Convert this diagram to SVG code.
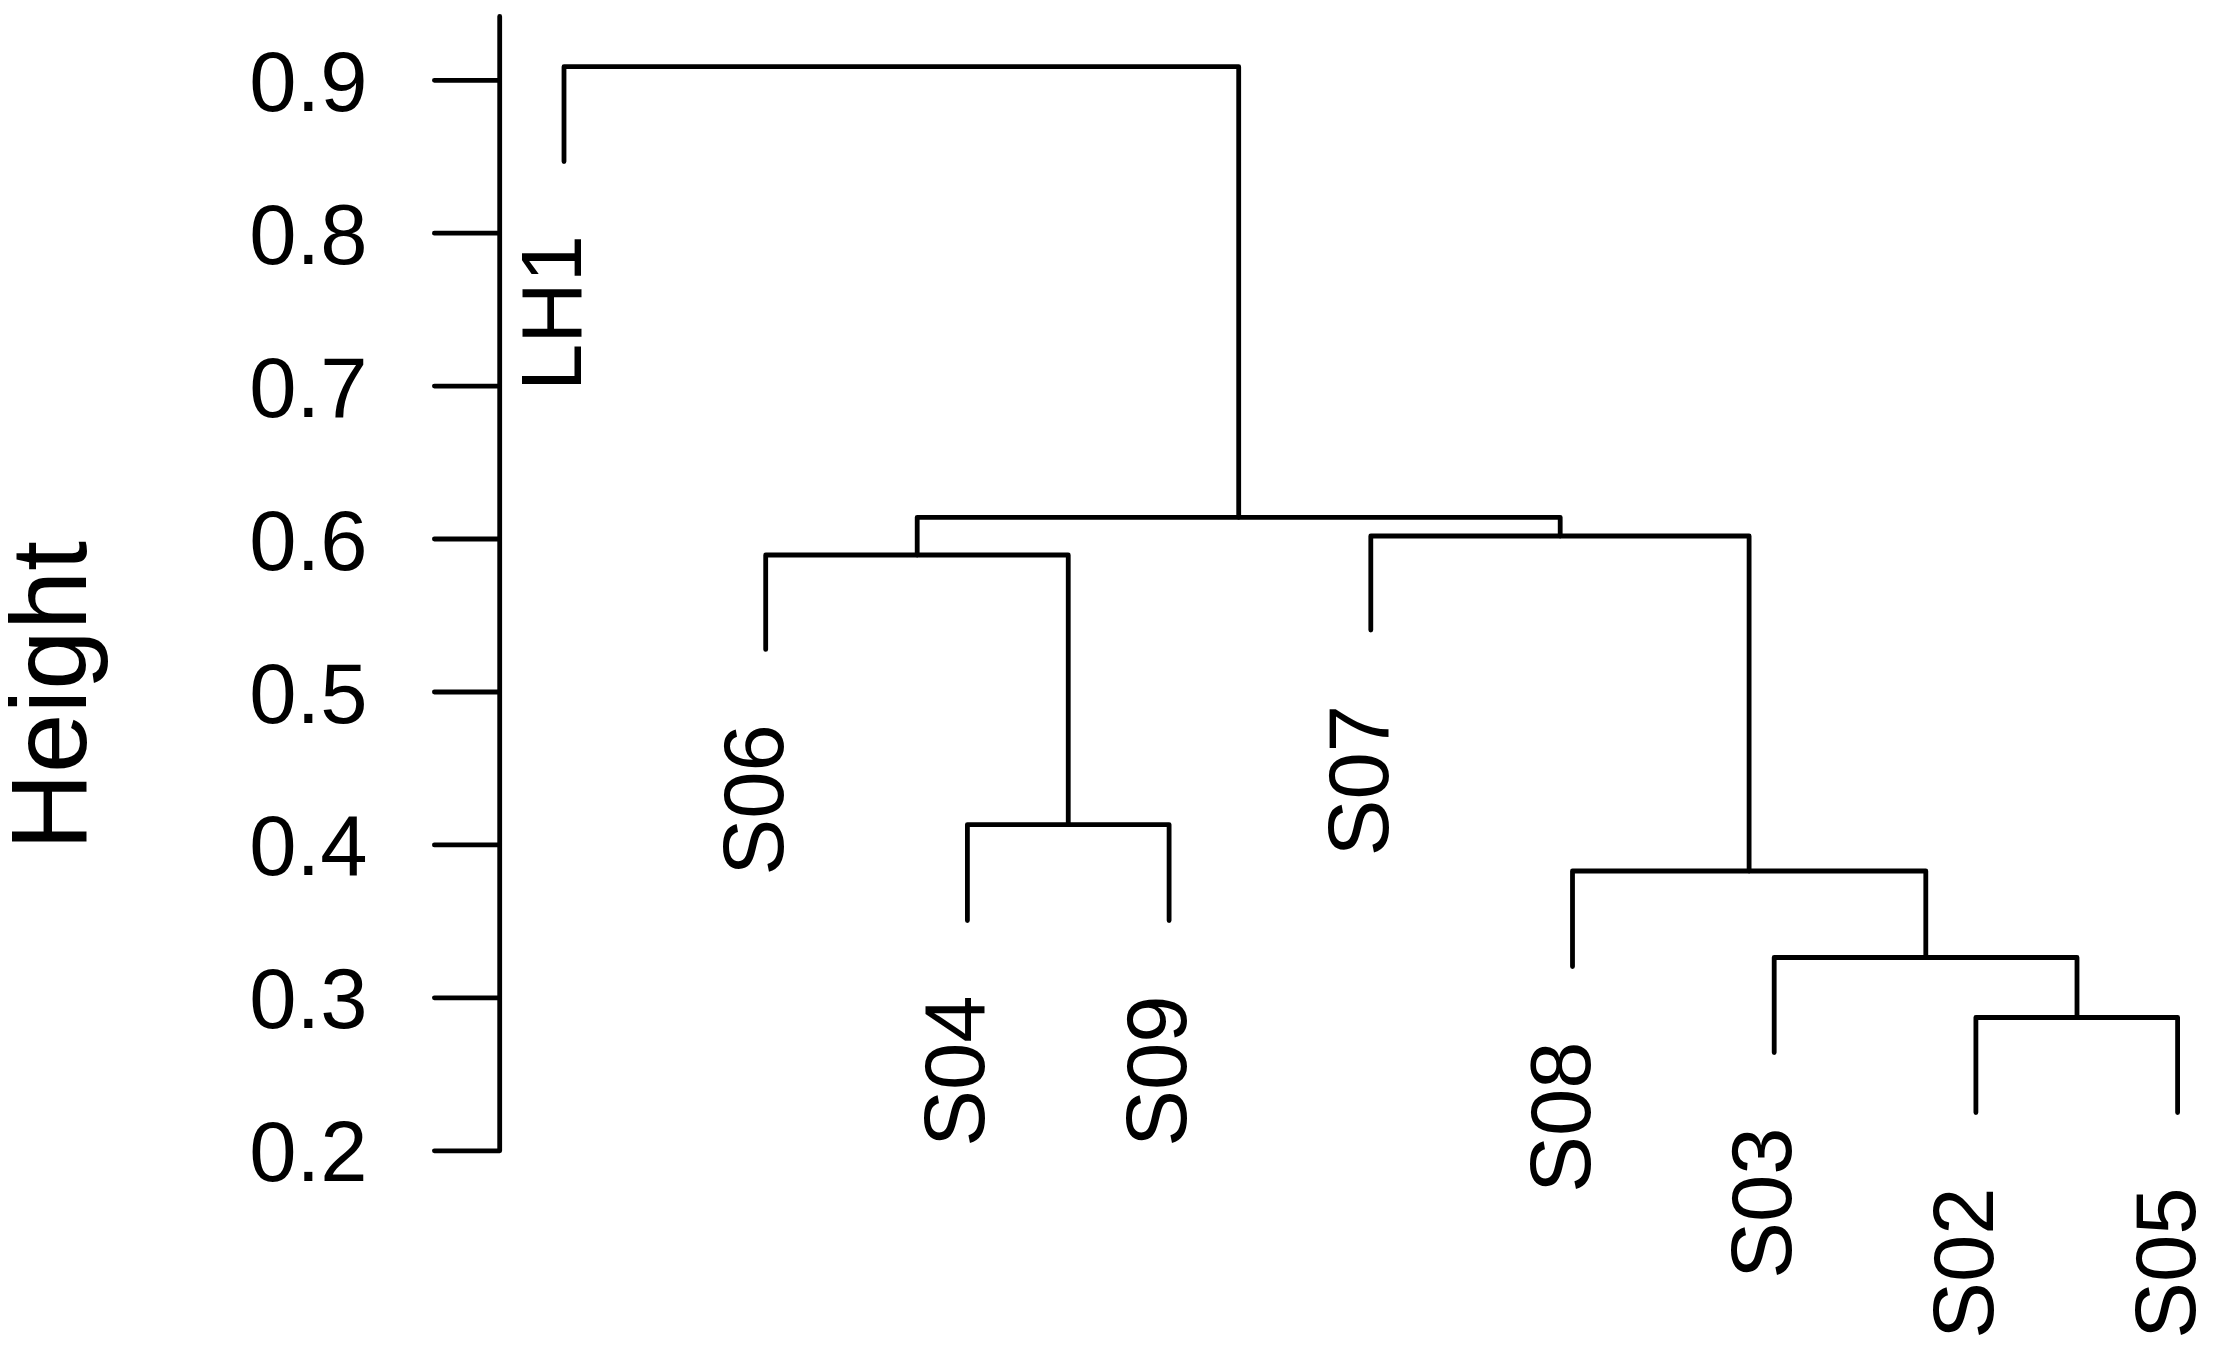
<svg xmlns="http://www.w3.org/2000/svg" width="2217" height="1355" viewBox="0 0 2217 1355">
<style>
.ln{fill:none;stroke:#000;stroke-width:4.8;stroke-linecap:round;stroke-linejoin:round}
.t{font-family:"Liberation Sans",Arial,sans-serif;fill:#000}
.tick{font-size:85px;text-anchor:end}
.leaf{font-size:85px;text-anchor:end}
.ylab{font-size:107px;text-anchor:middle}
</style>
<rect width="2217" height="1355" fill="#fff"/>
<g id="axis">
<path class="ln" d="M499.7,16.4V1150.8M434.4,80.3H499.7M434.4,233.2H499.7M434.4,386.1H499.7M434.4,539H499.7M434.4,692H499.7M434.4,844.9H499.7M434.4,997.8H499.7M434.4,1150.8H499.7"/>
<text class="t tick" x="367.5" y="110.8">0.9</text>
<text class="t tick" x="367.5" y="263.7">0.8</text>
<text class="t tick" x="367.5" y="416.6">0.7</text>
<text class="t tick" x="367.5" y="569.5">0.6</text>
<text class="t tick" x="367.5" y="722.5">0.5</text>
<text class="t tick" x="367.5" y="875.4">0.4</text>
<text class="t tick" x="367.5" y="1028.3">0.3</text>
<text class="t tick" x="367.5" y="1181.3">0.2</text>
<text class="t ylab" transform="translate(86,695.6) rotate(-90)">Height</text>
</g>
<g id="connectors">
<path class="ln" d="M564,161.6V66.7H1238.7V517.3"/>
<path class="ln" d="M917.2,555V517.3H1560.2V536"/>
<path class="ln" d="M765.7,649.4V555H1068.25V824.6"/>
<path class="ln" d="M967.4,920.5V824.6H1169.1V920.5"/>
<path class="ln" d="M1370.8,630.1V536H1749.1V871"/>
<path class="ln" d="M1572.5,966.6V871H1925.8V957.5"/>
<path class="ln" d="M1774.2,1052.6V957.5H2077V1017.5"/>
<path class="ln" d="M1975.9,1112.6V1017.5H2177.6V1112.6"/>
</g>
<g id="LH1"><text class="t leaf" transform="translate(581,235) rotate(-90)">LH1</text></g>
<g id="S06"><text class="t leaf" transform="translate(782.7,724.3) rotate(-90)">S06</text></g>
<g id="S04"><text class="t leaf" transform="translate(984.4,995.4) rotate(-90)">S04</text></g>
<g id="S09"><text class="t leaf" transform="translate(1186.1,995.4) rotate(-90)">S09</text></g>
<g id="S07"><text class="t leaf" transform="translate(1387.8,705) rotate(-90)">S07</text></g>
<g id="S08"><text class="t leaf" transform="translate(1589.5,1041.5) rotate(-90)">S08</text></g>
<g id="S03"><text class="t leaf" transform="translate(1791.2,1127.5) rotate(-90)">S03</text></g>
<g id="S02"><text class="t leaf" transform="translate(1992.9,1187.5) rotate(-90)">S02</text></g>
<g id="S05"><text class="t leaf" transform="translate(2194.6,1187.5) rotate(-90)">S05</text></g>
</svg>
